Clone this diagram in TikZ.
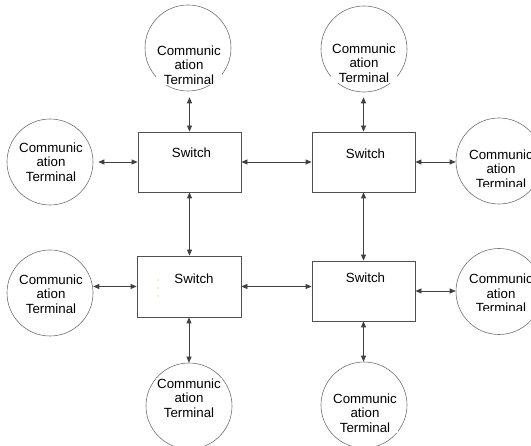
\documentclass[tikz,border=0pt]{standalone}
\usepackage{fontspec}
\setmainfont{Liberation Sans}
\usetikzlibrary{arrows.meta,calc}
\definecolor{linec}{HTML}{404040}
\definecolor{boxc}{HTML}{505050}
\definecolor{circc}{HTML}{707070}
\definecolor{dotc}{HTML}{F0A030}
\tikzset{
  sw/.style={draw=boxc, line width=0.8pt, minimum width=103pt, minimum height=60pt, inner sep=0pt},
  term/.style={draw=circc, line width=0.6pt, circle, minimum size=86pt, inner sep=0pt},
  lbl/.style={font=\fontsize{13.3}{14.5}\selectfont, align=center, inner sep=0pt, text=black},
  tlbl/.style={lbl, fill=white, inner xsep=1pt, inner ysep=0.5pt},
  conn/.style={draw=linec, line width=0.8pt, {Triangle[length=6pt,width=5pt]}-{Triangle[length=6pt,width=5pt]}}
}
\begin{document}
\begin{tikzpicture}[x=1pt,y=-1pt]
\useasboundingbox (0,0) rectangle (531,446);
% switches
\node[sw] (s1) at (189.5,162) {};
\node[sw] (s2) at (363.5,162) {};
\node[sw, minimum width=104pt, minimum height=61pt] (s3) at (189,286.5) {};
\node[sw] (s4) at (363.5,291) {};
\node[lbl] (l1) at ($(s1.center)+(2,-9)$) {Switch};
\node[lbl] (l2) at ($(s2.center)+(2,-8)$) {Switch};
\node[lbl] (l3) at ($(s3.center)+(5,-8)$) {Switch};
\node[lbl] (l4) at ($(s4.center)+(2,-13)$) {Switch};
% terminals
\node[term] (t1) at (188,48) {};
\node[term] (t2) at (364,49) {};
\node[term] (t3) at (499,161) {};
\node[term] (t4) at (50,162) {};
\node[term] (t5) at (50,293) {};
\node[term] (t6) at (499,291.5) {};
\node[term] (t7) at (189,406) {};
\node[term] (t8) at (364,405) {};
\node[tlbl] (x1) at ($(t1.center)+(1,17)$) {Communic\\ation\\Terminal};
\node[tlbl] (x2) at ($(t2.center)+(0,14)$) {Communic\\ation\\Terminal};
\begin{scope}
\clip (430,100) rectangle (540,187);
\node[tlbl] (x3) at ($(t3.center)+(2,8)$) {Communic\\ation\\Terminal};
\end{scope}
\node[tlbl] (x4) at ($(t4.center)+(1,0)$) {Communic\\ation\\Terminal};
\node[tlbl] (x5) at ($(t5.center)+(1,1)$) {Communic\\ation\\Terminal};
\begin{scope}
\clip (430,230) rectangle (540,311);
\node[tlbl] (x6) at ($(t6.center)+(2,2)$) {Communic\\ation\\Terminal};
\end{scope}
\node[tlbl] (x7) at ($(t7.center)+(0,-8)$) {Communic\\ation\\Terminal};
\node[tlbl] (x8) at ($(t8.center)+(1,8)$) {Communic\\ation\\Terminal};
% connectors
\draw[conn] (s1.north) -- ($(s1.north |- t1.south)+(0,6)$);
\draw[conn] (s2.north) -- ($(s2.north |- t2.south)+(0,5)$);
\draw[conn] (s1.west) -- ($(t4.east)+(5,0)$);
\draw[conn] (s2.east) -- (s2.east -| t3.west);
\draw[conn] (s1.east) -- (s1.east -| s2.west);
\draw[conn] (s1.south) -- (s1.south |- s3.north);
\draw[conn] (s2.south) -- (s2.south |- s4.north);
\draw[conn] (s3.west) -- (s3.west -| t5.east);
\draw[conn] (s3.east) -- (s3.east -| s4.west);
\draw[conn] (s4.east) -- (s4.east -| t6.west);
\draw[conn] (s3.south) -- (s3.south |- t7.north);
\draw[conn] (s4.south) -- (s4.south |- t8.north);
% small orange marks
\fill[dotc] (158,280) circle (0.6);
\fill[dotc] (158,288) circle (0.6);
\fill[dotc] (158,296) circle (0.6);
\end{tikzpicture}
\end{document}
